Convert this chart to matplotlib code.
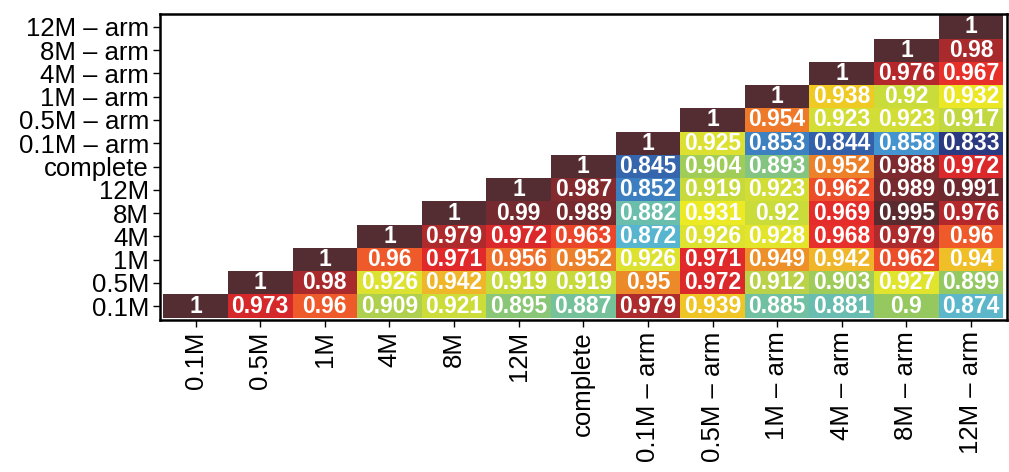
import numpy as np
import matplotlib.pyplot as plt
from matplotlib.colors import LinearSegmentedColormap

plt.rcParams['font.family'] = ['Liberation Sans', 'DejaVu Sans']

labels = ['0.1M', '0.5M', '1M', '4M', '8M', '12M', 'complete',
          '0.1M – arm', '0.5M – arm', '1M – arm', '4M – arm', '8M – arm', '12M – arm']

# upper triangle rows, each starting at its diagonal cell
rows = [
    [1, 0.973, 0.96, 0.909, 0.921, 0.895, 0.887, 0.979, 0.939, 0.885, 0.881, 0.9, 0.874],
    [1, 0.98, 0.926, 0.942, 0.919, 0.919, 0.95, 0.972, 0.912, 0.903, 0.927, 0.899],
    [1, 0.96, 0.971, 0.956, 0.952, 0.926, 0.971, 0.949, 0.942, 0.962, 0.94],
    [1, 0.979, 0.972, 0.963, 0.872, 0.926, 0.928, 0.968, 0.979, 0.96],
    [1, 0.99, 0.989, 0.882, 0.931, 0.92, 0.969, 0.995, 0.976],
    [1, 0.987, 0.852, 0.919, 0.923, 0.962, 0.989, 0.991],
    [1, 0.845, 0.904, 0.893, 0.952, 0.988, 0.972],
    [1, 0.925, 0.853, 0.844, 0.858, 0.833],
    [1, 0.954, 0.923, 0.923, 0.917],
    [1, 0.938, 0.92, 0.932],
    [1, 0.976, 0.967],
    [1, 0.98],
    [1],
]

# colour anchors
anchors = [
    (0.833, '#2b3a80'), (0.845, '#3466ae'), (0.858, '#4394cf'), (0.872, '#58b6cf'),
    (0.883, '#6cbfa8'), (0.893, '#84c47f'), (0.900, '#95c95e'), (0.912, '#b8d24a'),
    (0.920, '#c9dc3a'), (0.926, '#dde130'), (0.931, '#eceb24'), (0.938, '#efc923'),
    (0.942, '#f0b82a'), (0.950, '#ec8a28'), (0.954, '#ee7a2a'), (0.960, '#ef5a2a'),
    (0.967, '#e8302b'), (0.972, '#e0282b'), (0.976, '#b5282b'), (0.980, '#aa2a2d'),
    (0.989, '#7a2a2e'), (0.995, '#5a2b2f'), (1.0, '#532d31'),
]
vmin, vmax = anchors[0][0], anchors[-1][0]
cmap = LinearSegmentedColormap.from_list(
    'corr', [((v - vmin) / (vmax - vmin), c) for v, c in anchors])

n = len(labels)
mat = np.full((n, n), np.nan)
for i, r in enumerate(rows):
    mat[i, i:i + len(r)] = r

fig = plt.figure(figsize=(10.09, 4.72), dpi=100)
ax = fig.add_axes([0.1586, 0.322, 0.839, 0.648])
ax.pcolormesh(np.arange(n + 1) - 0.5, np.arange(n + 1) - 0.5,
              np.ma.masked_invalid(mat), cmap=cmap, vmin=vmin, vmax=vmax)

for i in range(n):
    for j in range(n):
        v = mat[i, j]
        if np.isnan(v):
            continue
        txt = '1' if v == 1 else '%g' % v
        ax.text(j, i, txt, ha='center', va='center', color='white',
                fontsize=16.5, fontweight='bold')

ax.set_xlim(-0.55, n - 0.45)
ax.set_ylim(-0.6, n - 0.45)
ax.set_xticks(range(n))
ax.set_xticklabels(labels, rotation=90, fontsize=18.5)
ax.set_yticks(range(n))
ax.set_yticklabels(labels, fontsize=18.5)
ax.tick_params(length=5, width=1, pad=3)
for s in ax.spines.values():
    s.set_linewidth(1.8)

fig.savefig('out.png', dpi=100)
